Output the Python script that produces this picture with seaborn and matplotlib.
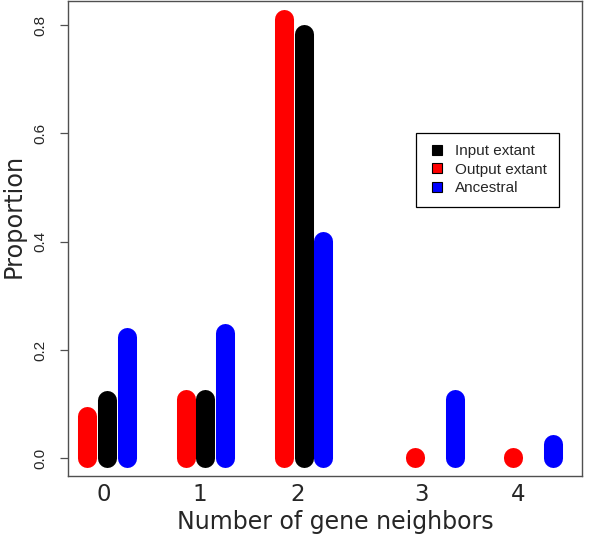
import numpy as np
import pandas as pd
import matplotlib
matplotlib.use("Agg")
import matplotlib.pyplot as plt
from matplotlib.lines import Line2D
import seaborn as sns

sns.set_style("white")
plt.rcParams["font.family"] = ["DejaVu Sans"]

# ---- data ----
categories = ["0", "1", "2", "3", "4"]
series_names = ["Output extant", "Input extant", "Ancestral"]
output_extant = [0.078, 0.110, 0.812, 0.002, 0.002]
input_extant = [0.107, 0.109, 0.784, np.nan, np.nan]
ancestral = [0.224, 0.232, 0.401, 0.110, 0.027]
yticks = [0.0, 0.2, 0.4, 0.6, 0.8]
ytick_labels = ["0.0", "0.2", "0.4", "0.6", "0.8"]

# ---- layout ----
group_pos = [0.0, 1.0, 2.0, 3.335, 4.33]
tick_pos = [-0.03, 0.945, 1.94, 3.20, 4.18]
offsets = {"Output extant": -0.2, "Input extant": 0.0, "Ancestral": 0.2}
colors = {"Output extant": "#FF0000", "Input extant": "#000000", "Ancestral": "#0000FF"}

values = {"Output extant": output_extant, "Input extant": input_extant, "Ancestral": ancestral}
rows = []
for s in series_names:
    for i, v in enumerate(values[s]):
        if np.isnan(v):
            continue
        x = group_pos[i] + offsets[s]
        rows.append(dict(x=x, y=0.0, series=s, unit=f"{s}-{i}"))
        rows.append(dict(x=x, y=v, series=s, unit=f"{s}-{i}"))
df = pd.DataFrame(rows)

fig = plt.figure(figsize=(6, 5.37), dpi=100)
ax = fig.add_axes([0.1130, 0.1142, 0.8565, 0.8838])

sns.lineplot(data=df, x="x", y="y", hue="series", hue_order=series_names,
             units="unit", estimator=None, sort=False, palette=colors,
             linewidth=13.7, solid_capstyle="round", legend=False, ax=ax)

ax.set_xlim(-0.40, 4.826)
ax.set_ylim(-0.032, 0.8445)

ax.set_xticks(tick_pos)
ax.set_xticklabels(categories, fontsize=16.5)
ax.tick_params(axis="x", length=0, pad=5)

ax.set_yticks(yticks)
ax.set_yticklabels(ytick_labels, fontsize=11, family="Liberation Sans",
                   rotation=90, va="center")
ax.tick_params(axis="y", left=True, length=5.5, width=0.9, direction="out",
               pad=9, color="#505050")

for sp in ax.spines.values():
    sp.set_color("#505050")
    sp.set_linewidth(1.0)
    sp.set_visible(True)

ax.set_xlabel("Number of gene neighbors", fontsize=17, va="center")
ax.xaxis.set_label_coords(0.52, -0.097)
ax.set_ylabel("Proportion", fontsize=17.3, va="center")
ax.yaxis.set_label_coords(-0.106, 0.547)

legend_order = ["Input extant", "Output extant", "Ancestral"]
handles = [Line2D([], [], ls="", marker="s", markersize=7,
                  markerfacecolor=colors[s], markeredgecolor="black",
                  markeredgewidth=0.8) for s in legend_order]
leg = fig.legend(handles, legend_order, loc="upper left",
                 bbox_to_anchor=(416 / 600, 1 - 132.5 / 537),
                 bbox_transform=fig.transFigure, borderaxespad=0,
                 prop={"family": "Liberation Sans", "size": 11},
                 frameon=True, fancybox=False, shadow=False,
                 borderpad=0.77, labelspacing=0.29, handlelength=1.18,
                 handletextpad=0.62)
leg.get_frame().set_edgecolor("black")
leg.get_frame().set_linewidth(0.9)
leg.get_frame().set_alpha(1)

fig.savefig("out.png", dpi=100)
